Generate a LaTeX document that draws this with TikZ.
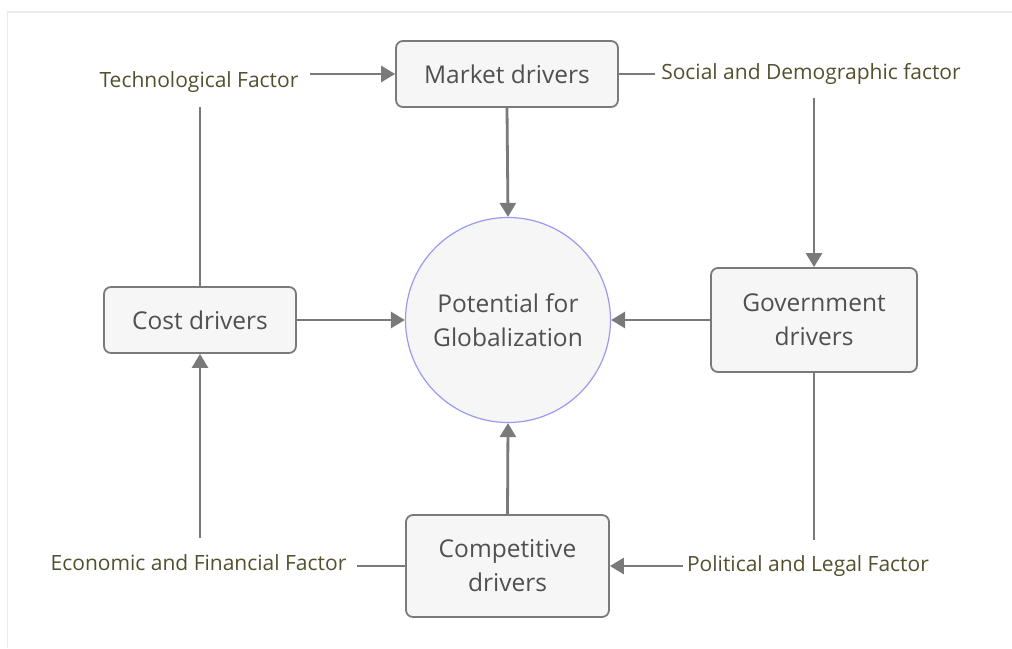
\documentclass[tikz,border=0pt]{standalone}
\usepackage{fontspec}
\setmainfont{Open Sans}
\usetikzlibrary{arrows.meta}
\definecolor{framec}{HTML}{EBEBEB}
\definecolor{linec}{HTML}{7A7A7A}
\definecolor{boxfill}{HTML}{F6F6F6}
\definecolor{nodetext}{HTML}{505050}
\definecolor{factortext}{HTML}{54502E}
\definecolor{circlec}{HTML}{9A9AF0}
\tikzset{
  x=1pt, y=-1pt,
  driver/.style={draw=linec, line width=1.8pt, fill=boxfill, rounded corners=7pt,
    text=nodetext, font=\fontsize{24.5}{34}\selectfont, align=center, inner sep=0pt},
  factor/.style={text=factortext, font=\fontsize{21}{24}\selectfont, inner sep=0pt},
  conn/.style={draw=linec, line width=2.8pt},
  arr/.style={conn, -{Triangle[length=14pt,width=16pt]}},
}
\begin{document}
\begin{tikzpicture}
\useasboundingbox (0,0) rectangle (1012,648);
\draw[framec, line width=1.2pt] (1012,12) -- (7.5,12) -- (7.5,648);

\node[driver, minimum width=222pt, minimum height=66pt] (market) at (507,74) {Market drivers};
\node[driver, minimum width=192pt, minimum height=66pt] (cost) at (200,320) {Cost drivers};
\node[driver, minimum width=206pt, minimum height=104pt] (gov) at (814,320) {Government\\drivers};
\node[driver, minimum width=203pt, minimum height=102pt] (comp) at (507.5,566) {Competitive\\drivers};
\node[circle, draw=circlec, line width=1.2pt, fill=boxfill, minimum size=205pt, inner sep=0pt,
  text=nodetext, font=\fontsize{24.5}{34}\selectfont, align=center] (pot) at (508,320) {Potential for\\Globalization};

\node[factor] (tech) at (199,82) {Technological Factor};
\node[factor] (soc) at (811,74) {Social and Demographic factor};
\node[factor] (econ) at (198.5,563) {Economic and Financial Factor};
\node[factor] (pol) at (808,566) {Political and Legal Factor};

\coordinate (techend) at (310,74);
\coordinate (techbot) at (200,107);
\coordinate (socend) at (655,74);
\coordinate (soctop) at (814,98);
\coordinate (econend) at (357,566);
\coordinate (econtop) at (200,538);
\coordinate (polend) at (683,566);
\coordinate (polbot) at (814,540);

\draw[arr] (techend) -- (market.west);
\draw[conn] (market.east) -- (socend);
\draw[arr] (market.south) -- (pot.north);
\draw[conn] (techbot) -- (cost.north);
\draw[arr] (cost.east) -- (pot.west);
\draw[arr] (soctop) -- (gov.north);
\draw[arr] (gov.west) -- (pot.east);
\draw[conn] (gov.south) -- (polbot);
\draw[arr] (polend) -- (comp.east);
\draw[arr] (comp.north) -- (pot.south);
\draw[conn] (econend) -- (comp.west);
\draw[arr] (econtop) -- (cost.south);
\end{tikzpicture}
\end{document}
